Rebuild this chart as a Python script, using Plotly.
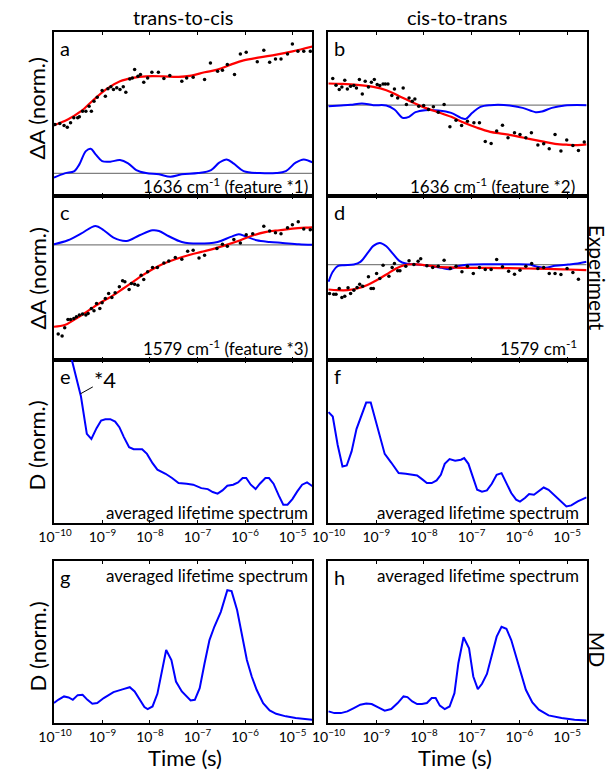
import plotly.graph_objects as go

FONT = "Lato, 'Open Sans', sans-serif"
RED = "#ff0000"
BLUE = "#0000ff"
GRAY = "#808080"

# ---- data (x values are log10 of time in s, y values normalized) ----
# panel a: trans-to-cis, 1636 cm-1 (feature *1)
a_dots_x = [-10.0, -9.897, -9.808, -9.74, -9.671, -9.603, -9.521, -9.486, -9.418, -9.349,
            -9.281, -9.233, -9.178, -9.11, -9.007, -8.939, -8.884, -8.822, -8.768, -8.699,
            -8.631, -8.562, -8.508, -8.425, -8.371, -8.323, -8.254, -8.2, -8.131, -8.049,
            -7.96, -7.823, -7.707, -7.583, -7.33, -7.228, -7.091, -6.851, -6.728, -6.577,
            -6.475, -6.372, -6.221, -6.098, -5.975, -5.742, -5.605, -5.482, -5.359, -5.243,
            -5.106, -5.003, -4.887, -4.764, -4.627]
a_dots_y = [0.49, 0.50, 0.48, 0.463, 0.507, 0.557, 0.557, 0.567, 0.623, 0.623,
            0.673, 0.623, 0.723, 0.763, 0.83, 0.773, 0.847, 0.867, 0.84, 0.857,
            0.84, 0.867, 0.813, 0.947, 0.957, 1.04, 0.973, 0.99, 0.913, 0.957,
            1.013, 1.013, 0.95, 0.98, 0.923, 0.957, 0.963, 0.94, 1.107, 1.023,
            1.033, 1.09, 0.99, 1.197, 1.213, 1.12, 1.233, 1.113, 1.147, 1.147,
            1.197, 1.297, 1.223, 1.223, 1.223]
a_fit_x = [-10.02, -9.73, -9.45, -9.18, -8.91, -8.63, -8.36, -8.08, -7.74, -7.40,
           -7.13, -6.85, -6.58, -6.30, -6.03, -5.69, -5.34, -5.00, -4.57]
a_fit_y = [0.483, 0.54, 0.623, 0.74, 0.847, 0.923, 0.957, 0.973, 0.973, 0.967,
           0.98, 1.013, 1.04, 1.09, 1.133, 1.163, 1.19, 1.223, 1.273]
a_spec_x = [-10.02, -9.794, -9.589, -9.486, -9.349, -9.247, -9.144, -9.007, -8.836, -8.631,
            -8.46, -8.288, -8.083, -7.81, -7.57, -7.33, -6.988, -6.714, -6.543, -6.386,
            -6.235, -6.03, -5.688, -5.345, -5.14, -4.935, -4.764, -4.572]
a_spec_y = [-0.043, 0.0, 0.023, 0.09, 0.223, 0.247, 0.19, 0.123, 0.117, 0.133,
            0.1, 0.033, 0.003, -0.01, -0.033, -0.01, 0.003, 0.033, 0.107, 0.14,
            0.097, 0.023, 0.003, 0.003, 0.023, 0.107, 0.14, 0.107]

# panel b: cis-to-trans, 1636 cm-1 (feature *2)
b_dots_x = [-9.912, -9.844, -9.776, -9.721, -9.66, -9.606, -9.538, -9.47, -9.415, -9.354,
            -9.293, -9.232, -9.164, -9.102, -9.041, -8.98, -8.925, -8.857, -8.81, -8.755,
            -8.674, -8.619, -8.551, -8.436, -8.368, -8.313, -8.245, -8.191, -8.109, -8.007,
            -7.905, -7.803, -7.701, -7.578, -7.456, -7.327, -7.211, -7.089, -6.953, -6.837,
            -6.715, -6.592, -6.476, -6.354, -6.238, -6.102, -5.987, -5.864, -5.748, -5.612,
            -5.49, -5.374, -5.252, -5.129, -5.007, -4.878, -4.762, -4.64]
b_dots_y = [0.267, 0.2, 0.157, 0.183, 0.25, 0.163, 0.19, 0.197, 0.173, 0.257,
            0.113, 0.24, 0.183, 0.23, 0.257, 0.207, 0.197, 0.213, 0.213, 0.213,
            0.097, 0.163, 0.073, 0.173, 0.007, 0.073, 0.04, 0.063, -0.01, -0.003,
            -0.043, -0.017, -0.07, 0.007, -0.217, -0.15, -0.203, -0.16, -0.177, -0.177,
            -0.363, -0.383, -0.26, -0.2, -0.327, -0.277, -0.293, -0.327, -0.277, -0.4,
            -0.387, -0.437, -0.293, -0.46, -0.35, -0.403, -0.453, -0.37]
b_fit_x = [-10.0, -9.742, -9.402, -9.061, -8.789, -8.517, -8.245, -7.973, -7.701, -7.429,
           -7.157, -6.885, -6.612, -6.34, -6.068, -5.796, -5.524, -5.252, -4.98, -4.776, -4.592]
b_fit_y = [0.217, 0.213, 0.203, 0.183, 0.15, 0.09, 0.03, -0.027, -0.07, -0.117,
           -0.177, -0.227, -0.267, -0.287, -0.31, -0.337, -0.363, -0.387, -0.397, -0.4, -0.393]
b_spec_x = [-10.0, -9.742, -9.538, -9.3, -9.061, -8.789, -8.619, -8.449, -8.313, -8.177,
            -7.973, -7.701, -7.429, -7.225, -7.123, -6.986, -6.817, -6.612, -6.204, -5.932,
            -5.66, -5.524, -5.32, -5.048, -4.592]
b_spec_y = [-0.01, -0.003, 0.003, 0.017, 0.0, -0.003, -0.043, -0.127, -0.117, -0.07,
            -0.05, -0.053, -0.077, -0.127, -0.137, -0.077, -0.017, 0.0, -0.003, -0.027,
            -0.07, -0.063, -0.027, -0.003, 0.0]

# panel c: trans-to-cis, 1579 cm-1 (feature *3)
c_dots_x = [-9.931, -9.849, -9.794, -9.726, -9.671, -9.603, -9.548, -9.486, -9.418, -9.349,
            -9.302, -9.233, -9.178, -9.124, -9.055, -9.007, -8.939, -8.87, -8.802, -8.733,
            -8.644, -8.576, -8.528, -8.439, -8.391, -8.323, -8.254, -8.186, -8.131, -8.049,
            -7.946, -7.844, -7.707, -7.604, -7.467, -7.33, -7.207, -7.091, -6.968, -6.851,
            -6.591, -6.475, -6.372, -6.235, -6.098, -5.975, -5.838, -5.605, -5.482, -5.359,
            -5.243, -5.106, -5.003, -4.88, -4.764, -4.627]
c_dots_y = [-0.893, -0.913, -0.83, -0.747, -0.747, -0.737, -0.72, -0.703, -0.693, -0.703,
            -0.687, -0.637, -0.66, -0.587, -0.637, -0.58, -0.537, -0.487, -0.527, -0.48,
            -0.42, -0.36, -0.37, -0.447, -0.387, -0.393, -0.403, -0.303, -0.347, -0.27,
            -0.227, -0.227, -0.18, -0.16, -0.127, -0.143, -0.063, -0.053, -0.13, -0.103,
            -0.037, 0.007, -0.013, 0.053, 0.02, 0.103, 0.113, 0.187, 0.14, 0.123,
            0.113, 0.173, 0.203, 0.233, 0.16, 0.153]
c_fit_x = [-10.02, -9.794, -9.589, -9.384, -9.178, -8.973, -8.768, -8.562, -8.357, -8.152,
           -7.946, -7.741, -7.467, -7.193, -6.92, -6.646, -6.372, -6.098, -5.824, -5.551,
           -5.277, -5.003, -4.729, -4.572]
c_fit_y = [-0.82, -0.803, -0.747, -0.687, -0.62, -0.56, -0.503, -0.437, -0.37, -0.303,
           -0.243, -0.193, -0.143, -0.103, -0.07, -0.037, 0.003, 0.047, 0.097, 0.13,
           0.147, 0.163, 0.173, 0.177]
c_spec_x = [-10.02, -9.726, -9.452, -9.144, -8.973, -8.768, -8.494, -8.22, -7.946, -7.81,
            -7.604, -7.33, -6.988, -6.577, -6.303, -6.132, -5.996, -5.756, -5.482, -5.209,
            -4.866, -4.572]
c_spec_y = [0.007, 0.047, 0.113, 0.19, 0.147, 0.073, 0.04, 0.097, 0.147, 0.14,
            0.087, 0.03, 0.013, 0.03, 0.08, 0.107, 0.087, 0.047, 0.03, 0.02,
            0.007, 0.0]

# panel d: cis-to-trans, 1579 cm-1
d_dots_x = [-9.98, -9.891, -9.844, -9.776, -9.721, -9.66, -9.592, -9.538, -9.47, -9.402,
            -9.347, -9.286, -9.164, -9.109, -9.061, -8.993, -8.925, -8.857, -8.735, -8.667,
            -8.619, -8.551, -8.504, -8.381, -8.313, -8.211, -8.123, -8.068, -7.939, -7.817,
            -7.701, -7.578, -7.449, -7.327, -7.204, -7.089, -6.966, -6.837, -6.715, -6.592,
            -6.476, -6.354, -6.225, -6.102, -5.987, -5.864, -5.742, -5.612, -5.49, -5.374,
            -5.252, -5.129, -5.0, -4.878, -4.762]
d_dots_y = [-0.29, -0.297, -0.297, -0.24, -0.33, -0.317, -0.233, -0.29, -0.257, -0.23,
            -0.197, -0.217, -0.123, -0.24, -0.24, -0.09, -0.14, -0.007, -0.117, -0.03,
            0.01, -0.063, -0.063, -0.017, 0.037, 0.0, 0.033, 0.057, -0.013, -0.03,
            -0.017, 0.043, -0.04, -0.017, -0.073, -0.017, -0.09, -0.03, -0.05, -0.05,
            0.05, -0.023, -0.067, -0.097, -0.057, -0.017, 0.01, -0.04, -0.03, -0.09,
            -0.09, -0.1, -0.04, -0.08, -0.147]
d_fit_x = [-10.0, -9.81, -9.606, -9.402, -9.198, -8.993, -8.789, -8.585, -8.415, -8.245,
           -7.973, -7.701, -7.361, -7.021, -6.612, -6.204, -5.796, -5.388, -4.98, -4.592]
d_fit_y = [-0.25, -0.257, -0.257, -0.24, -0.207, -0.157, -0.1, -0.04, -0.007, 0.003,
           -0.007, -0.023, -0.03, -0.033, -0.033, -0.037, -0.04, -0.043, -0.05, -0.057]
d_spec_x = [-10.0, -9.912, -9.81, -9.674, -9.47, -9.333, -9.163, -9.061, -8.925, -8.789,
            -8.653, -8.517, -8.381, -8.109, -7.837, -7.633, -7.463, -7.293, -7.021, -6.612,
            -6.204, -5.796, -5.66, -5.456, -5.252, -4.98, -4.776, -4.592]
d_spec_y = [-0.173, -0.073, -0.017, -0.007, 0.0, 0.027, 0.127, 0.187, 0.217, 0.183,
            0.11, 0.037, 0.01, 0.0, -0.017, -0.033, -0.047, -0.017, 0.0, 0.003,
            0.003, 0.0, -0.017, -0.033, -0.013, 0.0, 0.01, 0.027]

# panel e: trans-to-cis, experimental averaged lifetime spectrum
e_x = [-10.02, -9.644, -9.555, -9.452, -9.329, -9.233, -9.124, -9.028, -8.939, -8.836,
       -8.733, -8.644, -8.549, -8.439, -8.343, -8.165, -8.063, -7.946, -7.844, -7.672,
       -7.536, -7.399, -7.228, -7.091, -6.92, -6.783, -6.68, -6.577, -6.475, -6.372,
       -6.249, -6.146, -6.05, -5.975, -5.879, -5.777, -5.688, -5.571, -5.496, -5.4,
       -5.291, -5.195, -5.106, -5.003, -4.9, -4.798, -4.695, -4.572]
e_y = [1.439, 1.0, 0.878, 0.776, 0.547, 0.516, 0.582, 0.629, 0.637, 0.637,
       0.622, 0.588, 0.527, 0.465, 0.453, 0.453, 0.424, 0.367, 0.327, 0.302,
       0.276, 0.245, 0.241, 0.235, 0.214, 0.208, 0.19, 0.18, 0.2, 0.229,
       0.235, 0.249, 0.276, 0.276, 0.235, 0.208, 0.241, 0.276, 0.276, 0.241,
       0.169, 0.112, 0.112, 0.147, 0.194, 0.235, 0.249, 0.224]

# panel f: cis-to-trans, experimental averaged lifetime spectrum
f_x = [-10.0, -9.912, -9.81, -9.708, -9.619, -9.517, -9.415, -9.313, -9.211, -9.116,
       -9.027, -8.925, -8.823, -8.687, -8.531, -8.381, -8.245, -8.143, -8.041, -7.939,
       -7.837, -7.735, -7.646, -7.565, -7.463, -7.347, -7.225, -7.157, -7.068, -6.987,
       -6.885, -6.783, -6.68, -6.578, -6.476, -6.374, -6.272, -6.17, -6.068, -5.987,
       -5.884, -5.796, -5.694, -5.592, -5.49, -5.388, -5.252, -5.116, -5.014, -4.912,
       -4.776, -4.592]
f_y = [0.68, 0.653, 0.48, 0.347, 0.353, 0.439, 0.576, 0.663, 0.739, 0.739,
       0.643, 0.52, 0.424, 0.371, 0.306, 0.302, 0.296, 0.292, 0.269, 0.245,
       0.245, 0.261, 0.296, 0.363, 0.392, 0.382, 0.388, 0.398, 0.363, 0.286,
       0.204, 0.192, 0.2, 0.241, 0.296, 0.306, 0.245, 0.184, 0.143, 0.131,
       0.153, 0.178, 0.173, 0.198, 0.218, 0.204, 0.169, 0.133, 0.102, 0.108,
       0.133, 0.157]

# panel g: trans-to-cis, MD averaged lifetime spectrum
g_x = [-10.02, -9.931, -9.808, -9.712, -9.623, -9.521, -9.418, -9.315, -9.213, -9.11,
       -8.973, -8.768, -8.562, -8.425, -8.323, -8.22, -8.117, -8.049, -7.946, -7.844,
       -7.755, -7.659, -7.549, -7.453, -7.33, -7.228, -7.145, -7.056, -6.954, -6.851,
       -6.748, -6.646, -6.509, -6.372, -6.283, -6.167, -6.064, -5.961, -5.859, -5.756,
       -5.619, -5.482, -5.345, -5.14, -4.935, -4.572]
g_y = [0.123, 0.143, 0.164, 0.158, 0.143, 0.172, 0.174, 0.143, 0.119, 0.123,
       0.154, 0.191, 0.209, 0.221, 0.195, 0.143, 0.098, 0.086, 0.102, 0.18,
       0.307, 0.451, 0.389, 0.256, 0.195, 0.164, 0.139, 0.143, 0.215, 0.369,
       0.512, 0.594, 0.686, 0.82, 0.814, 0.697, 0.533, 0.389, 0.287, 0.205,
       0.123, 0.078, 0.057, 0.041, 0.031, 0.02]

# panel h: cis-to-trans, MD averaged lifetime spectrum
h_x = [-10.0, -9.878, -9.742, -9.606, -9.47, -9.334, -9.211, -9.096, -8.959, -8.823,
       -8.687, -8.551, -8.429, -8.347, -8.245, -8.143, -8.041, -7.939, -7.837, -7.755,
       -7.667, -7.565, -7.463, -7.361, -7.279, -7.17, -7.055, -6.966, -6.871, -6.783,
       -6.68, -6.578, -6.476, -6.374, -6.272, -6.17, -6.068, -5.966, -5.864, -5.728,
       -5.592, -5.388, -5.116, -4.844, -4.592]
h_y = [0.072, 0.061, 0.061, 0.072, 0.092, 0.113, 0.121, 0.117, 0.096, 0.076,
       0.086, 0.123, 0.164, 0.16, 0.133, 0.117, 0.117, 0.123, 0.154, 0.154,
       0.107, 0.086, 0.102, 0.184, 0.369, 0.529, 0.461, 0.287, 0.209, 0.242,
       0.303, 0.41, 0.533, 0.594, 0.582, 0.512, 0.41, 0.307, 0.205, 0.127,
       0.082, 0.047, 0.031, 0.02, 0.016]

tick_exps = [-10, -9, -8, -7, -6, -5]
x_range = [-10.02, -4.59]

W, H = 610, 771
col_px = [(39, 304), (320, 586)]
row_px = [(32, 196), (196, 360), (360, 523), (561, 723)]
y_ranges = {"a": [-0.227, 1.417], "b": [-0.91, 0.733], "c": [-1.153, 0.49],
            "d": [-0.957, 0.687], "e": [0, 1], "f": [0, 1], "g": [0, 1], "h": [0, 1]}


def t(vals):
    return [10 ** v for v in vals]


def px(x):
    return x / W


def py(y):
    return 1 - y / H


fig = go.Figure()
panels = ["a", "b", "c", "d", "e", "f", "g", "h"]
layout = {}
annotations = []

for i, name in enumerate(panels):
    row, col = divmod(i, 2)
    suffix = "" if i == 0 else str(i + 1)
    x0, x1 = col_px[col]
    y0, y1 = row_px[row]
    show_labels = row >= 2
    layout["xaxis" + suffix] = dict(
        type="log", range=x_range, domain=[px(x0), px(x1)],
        anchor="y" + suffix, showgrid=False, zeroline=False,
        showline=True, linecolor="black", linewidth=1.6, mirror="ticks",
        ticks="inside", ticklen=3, tickwidth=1.2, tickcolor="black",
        tickvals=t(tick_exps),
        ticktext=[f"10<sup>\u2212{-e}</sup>" for e in tick_exps],
        showticklabels=show_labels, tickfont=dict(size=14, color="black"),
    )
    layout["yaxis" + suffix] = dict(
        range=y_ranges[name], domain=[py(y1), py(y0)],
        anchor="x" + suffix, showgrid=False, zeroline=False,
        showline=True, linecolor="black", linewidth=1.6, mirror=True,
        showticklabels=False, ticks="",
    )
    annotations.append(dict(
        text=name, xref="paper", yref="paper", x=px(x0 + 4), y=py(y0 + 2),
        xanchor="left", yanchor="top", showarrow=False,
        font=dict(size=20, color="black"),
    ))

# experimental kinetics: baseline, lifetime-density overlay, fit, data
exp_sets = [
    ("", a_dots_x, a_dots_y, a_fit_x, a_fit_y, a_spec_x, a_spec_y),
    ("2", b_dots_x, b_dots_y, b_fit_x, b_fit_y, b_spec_x, b_spec_y),
    ("3", c_dots_x, c_dots_y, c_fit_x, c_fit_y, c_spec_x, c_spec_y),
    ("4", d_dots_x, d_dots_y, d_fit_x, d_fit_y, d_spec_x, d_spec_y),
]
for sfx, dx, dy, fx, fy, sx, sy in exp_sets:
    axes = dict(xaxis="x" + sfx, yaxis="y" + sfx)
    fig.add_trace(go.Scatter(x=t(x_range), y=[0, 0], mode="lines",
                             line=dict(color=GRAY, width=1.2), **axes))
    fig.add_trace(go.Scatter(x=t(sx), y=sy, mode="lines", line_shape="spline",
                             line=dict(color=BLUE, width=2), **axes))
    fig.add_trace(go.Scatter(x=t(fx), y=fy, mode="lines", line_shape="spline",
                             line=dict(color=RED, width=2.2), **axes))
    fig.add_trace(go.Scatter(x=t(dx), y=dy, mode="markers",
                             marker=dict(color="black", size=3.5), **axes))

for sfx, lx, ly in [("5", e_x, e_y), ("6", f_x, f_y), ("7", g_x, g_y), ("8", h_x, h_y)]:
    fig.add_trace(go.Scatter(x=t(lx), y=ly, mode="lines",
                             line=dict(color=BLUE, width=2),
                             xaxis="x" + sfx, yaxis="y" + sfx))


def label(text, x, y, size=17, anchor="right", angle=0):
    annotations.append(dict(
        text=text, xref="paper", yref="paper", x=px(x), y=py(y),
        xanchor=anchor, yanchor="middle", showarrow=False, textangle=angle,
        font=dict(size=size, color="black"),
    ))


label("trans-to-cis", 171.5, 17, size=20, anchor="center")
label("cis-to-trans", 453, 17, size=20, anchor="center")
label("1636 cm<sup>-1</sup> (feature *1)", 302, 185)
label("1636 cm<sup>-1</sup> (feature *2)", 576, 185)
label("1579 cm<sup>-1</sup> (feature *3)", 302, 348)
label("1579 cm<sup>-1</sup>", 578, 348)
for xr, yc in [(302, 512), (580, 512), (302, 575), (580, 575)]:
    label("averaged lifetime spectrum", xr, yc)
label("\u0394A (norm.)", 22, 108, size=22, anchor="center", angle=-90)
label("\u0394A (norm.)", 22, 278, size=22, anchor="center", angle=-90)
label("D (norm.)", 22, 445, size=22, anchor="center", angle=-90)
label("D (norm.)", 22, 646, size=22, anchor="center", angle=-90)
label("Experiment", 598, 278, size=21, anchor="center", angle=90)
label("MD", 598, 649, size=21, anchor="center", angle=90)
label("Time (s)", 174, 757, size=22, anchor="center")
label("Time (s)", 451, 757, size=22, anchor="center")

# "*4" marker on the early part of panel e
annotations.append(dict(
    text="*4", x=-9.466, y=0.792, xref="x5", yref="y5",
    showarrow=True, arrowhead=0, arrowwidth=1, arrowcolor="black",
    ax=25, ay=-14, font=dict(size=22, color="black"),
))

fig.update_layout(
    **layout,
    annotations=annotations,
    width=W, height=H,
    margin=dict(l=0, r=0, t=0, b=0),
    paper_bgcolor="white", plot_bgcolor="white",
    showlegend=False,
    font=dict(family=FONT, color="black"),
)

# drop the default page margin so the figure fills the window exactly
fig.write_html("out.html", post_script="document.body.style.margin = '0';",
               config={"displayModeBar": False})
